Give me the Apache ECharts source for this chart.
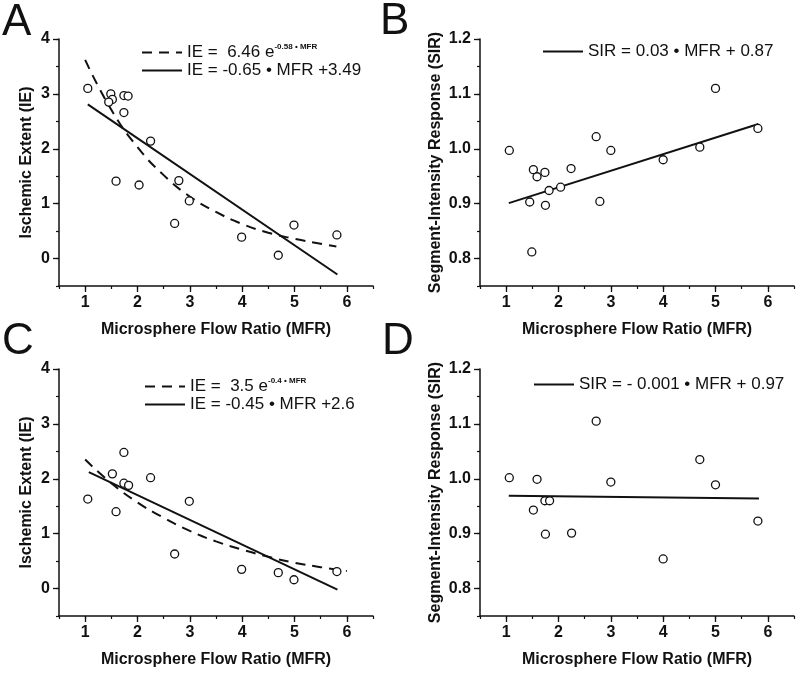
<!DOCTYPE html>
<html>
<head>
<meta charset="utf-8">
<script src="https://cdn.jsdelivr.net/npm/echarts@6.0.0/dist/echarts.min.js"></script>
<style>
  html, body { margin: 0; background: #fff; }
  #chart { width: 800px; height: 674px; }
</style>
</head>
<body>
<div id="chart"></div>
<script>
// tick labels
var mfrTicks = [1, 2, 3, 4, 5, 6];
var ieTicks = [0, 1, 2, 3, 4];
var sirTicks = [0.8, 0.9, 1.0, 1.1, 1.2];

// A: MFR vs IE
var pointsA = [[1.05, 3.10], [1.49, 3.00], [1.52, 2.90], [1.45, 2.85], [1.74, 2.97], [1.82, 2.96],
  [1.74, 2.66], [2.25, 2.14], [1.59, 1.41], [2.03, 1.34], [2.79, 1.42], [2.99, 1.05], [2.71, 0.64],
  [3.99, 0.39], [4.69, 0.06], [4.99, 0.61], [5.81, 0.43]];
var expCurveA = [[1.0, 3.62], [1.5, 2.71], [2.0, 2.03], [2.5, 1.52], [3.0, 1.13], [3.5, 0.85],
  [4.0, 0.63], [4.5, 0.47], [5.0, 0.36], [5.5, 0.27], [5.8, 0.22]];
var fitLineA = [[1.05, 2.81], [5.82, -0.29]];

// B: MFR vs SIR
var pointsB = [[1.06, 0.997], [1.52, 0.962], [1.59, 0.949], [1.74, 0.957], [1.82, 0.924], [2.04, 0.930],
  [2.24, 0.964], [2.72, 1.022], [2.79, 0.904], [3.00, 0.997], [1.45, 0.903], [1.75, 0.897], [1.49, 0.812],
  [4.00, 0.980], [4.70, 1.003], [5.00, 1.110], [5.81, 1.037]];
var fitLineB = [[1.05, 0.901], [5.82, 1.045]];

// C: MFR vs IE
var pointsC = [[1.05, 1.63], [1.52, 2.09], [1.59, 1.40], [1.74, 2.48], [1.74, 1.92], [1.83, 1.88],
  [2.25, 2.02], [2.99, 1.59], [2.71, 0.63], [3.99, 0.35], [4.69, 0.29], [4.99, 0.16], [5.81, 0.31]];
var expCurveC = [[1.0, 2.35], [1.5, 1.92], [2.0, 1.57], [2.5, 1.29], [3.0, 1.05], [3.5, 0.86],
  [4.0, 0.71], [4.5, 0.58], [5.0, 0.47], [5.5, 0.39], [6.0, 0.32]];
var fitLineC = [[1.07, 2.12], [5.82, -0.02]];

// D: MFR vs SIR
var pointsD = [[1.06, 1.002], [1.59, 0.999], [1.52, 0.943], [1.74, 0.960], [1.83, 0.960], [1.75, 0.899],
  [2.25, 0.901], [2.72, 1.105], [3.00, 0.994], [4.00, 0.854], [4.70, 1.035], [5.00, 0.989], [5.81, 0.923]];
var fitLineD = [[1.05, 0.969], [5.83, 0.964]];

var legendText = {
  "A exp": "{n|IE =  6.46 e}{s|-0.58 \u2022 MFR}",
  "A fit": "{n|IE = -0.65 \u2022 MFR +3.49}",
  "B fit": "{n|SIR = 0.03 \u2022 MFR + 0.87}",
  "C exp": "{n|IE =  3.5 e}{s|-0.4 \u2022 MFR}",
  "C fit": "{n|IE = -0.45 \u2022 MFR +2.6}",
  "D fit": "{n|SIR = - 0.001 \u2022 MFR + 0.97}",
};

var FONT = "Liberation Sans, Arial, sans-serif";
var INK = "#111";

var myChart = echarts.init(document.getElementById("chart"));

var grids = [
  { left: 59, top: 39, width: 314, height: 247 },
  { left: 480, top: 39, width: 314, height: 247 },
  { left: 59, top: 369, width: 314, height: 247 },
  { left: 480, top: 369, width: 314, height: 247 },
];

function mainX(g) {
  return {
    type: "value", gridIndex: g, position: "bottom",
    min: 0.5, max: 6.5, interval: 0.5,
    name: "Microsphere Flow Ratio (MFR)", nameLocation: "middle", nameGap: 36,
    nameTextStyle: { fontFamily: FONT, fontSize: 16, fontWeight: "bold", color: INK },
    axisLine: { show: true, onZero: false, lineStyle: { color: INK, width: 1.5 } },
    axisTick: { show: true, customValues: mfrTicks, length: 6, lineStyle: { color: INK, width: 1.3 } },
    axisLabel: { customValues: mfrTicks, margin: 9, fontFamily: FONT, fontSize: 16, fontWeight: "bold", color: INK },
    splitLine: { show: false },
  };
}
function minorX(g) {
  return {
    type: "value", gridIndex: g, position: "bottom",
    min: 0.5, max: 6.5, interval: 0.5,
    axisLine: { show: false, onZero: false },
    axisTick: { show: true, length: 3, lineStyle: { color: INK, width: 1.2 } },
    axisLabel: { show: false },
    splitLine: { show: false },
  };
}
function mainY(g, isIE) {
  return {
    type: "value", gridIndex: g, position: "left",
    min: isIE ? -0.5 : 0.75, max: isIE ? 4 : 1.2, interval: isIE ? 0.5 : 0.05,
    name: isIE ? "Ischemic Extent (IE)" : "Segment-Intensity Response (SIR)",
    nameLocation: "middle", nameGap: isIE ? 24 : 36,
    nameTextStyle: { fontFamily: FONT, fontSize: 16, fontWeight: "bold", color: INK },
    axisLine: { show: true, onZero: false, lineStyle: { color: INK, width: 1.5 } },
    axisTick: { show: true, customValues: isIE ? ieTicks : sirTicks, length: 6, lineStyle: { color: INK, width: 1.3 } },
    axisLabel: {
      customValues: isIE ? ieTicks : sirTicks, margin: 9,
      fontFamily: FONT, fontSize: 16, fontWeight: "bold", color: INK,
      formatter: function (v) { return isIE ? String(v) : v.toFixed(1); },
    },
    splitLine: { show: false },
  };
}
function minorY(g, isIE) {
  return {
    type: "value", gridIndex: g, position: "left",
    min: isIE ? -0.5 : 0.75, max: isIE ? 4 : 1.2, interval: isIE ? 0.5 : 0.05,
    axisLine: { show: false, onZero: false },
    axisTick: { show: true, length: 3, lineStyle: { color: INK, width: 1.2 } },
    axisLabel: { show: false },
    splitLine: { show: false },
  };
}

function scatter(name, idx, data) {
  return {
    name: name, type: "scatter", xAxisIndex: idx, yAxisIndex: idx, data: data,
    symbol: "circle", symbolSize: 8, z: 5,
    itemStyle: { color: "#fff", borderColor: INK, borderWidth: 1.3, opacity: 1 },
  };
}
function line(name, idx, data, dashed) {
  return {
    name: name, type: "line", xAxisIndex: idx, yAxisIndex: idx, data: data,
    symbol: "none", smooth: dashed, color: INK,
    lineStyle: { color: INK, width: 2, type: dashed ? [10, 7] : "solid" },
  };
}
function legend(names, left, top) {
  return {
    data: names, orient: "vertical", left: left, top: top,
    itemWidth: 40, itemHeight: 14, itemGap: 1, selectedMode: false,
    itemStyle: { opacity: 0 },  // hide the dot on the line icon
    formatter: function (name) { return legendText[name]; },
    textStyle: {
      color: INK,
      rich: {
        n: { fontFamily: FONT, fontSize: 17, lineHeight: 19, color: INK },
        s: { fontFamily: FONT, fontSize: 8, fontWeight: "bold", lineHeight: 19, verticalAlign: "top", color: INK },
      },
    },
  };
}

function letter(t, left, top) {
  return {
    type: "text", left: left, top: top,
    style: { text: t, font: "normal 44px " + FONT, fill: INK },
  };
}

var option = {
  animation: false,
  backgroundColor: "#fff",
  grid: grids,
  xAxis: [mainX(0), mainX(1), mainX(2), mainX(3), minorX(0), minorX(1), minorX(2), minorX(3)],
  yAxis: [mainY(0, true), mainY(1, false), mainY(2, true), mainY(3, false),
    minorY(0, true), minorY(1, false), minorY(2, true), minorY(3, false)],
  legend: [
    legend(["A exp", "A fit"], 136, 38),
    legend(["B fit"], 537, 38),
    legend(["C exp", "C fit"], 139, 372),
    legend(["D fit"], 528, 371),
  ],
  graphic: [letter("A", 2, 1), letter("B", 380, 0), letter("C", 2, 320), letter("D", 382, 320)],
  series: [
    line("A exp", 0, expCurveA, true),
    line("A fit", 0, fitLineA, false),
    scatter("A pts", 0, pointsA),
    line("B fit", 1, fitLineB, false),
    scatter("B pts", 1, pointsB),
    line("C exp", 2, expCurveC, true),
    line("C fit", 2, fitLineC, false),
    scatter("C pts", 2, pointsC),
    line("D fit", 3, fitLineD, false),
    scatter("D pts", 3, pointsD),
  ],
};

myChart.setOption(option);
</script>
</body>
</html>
